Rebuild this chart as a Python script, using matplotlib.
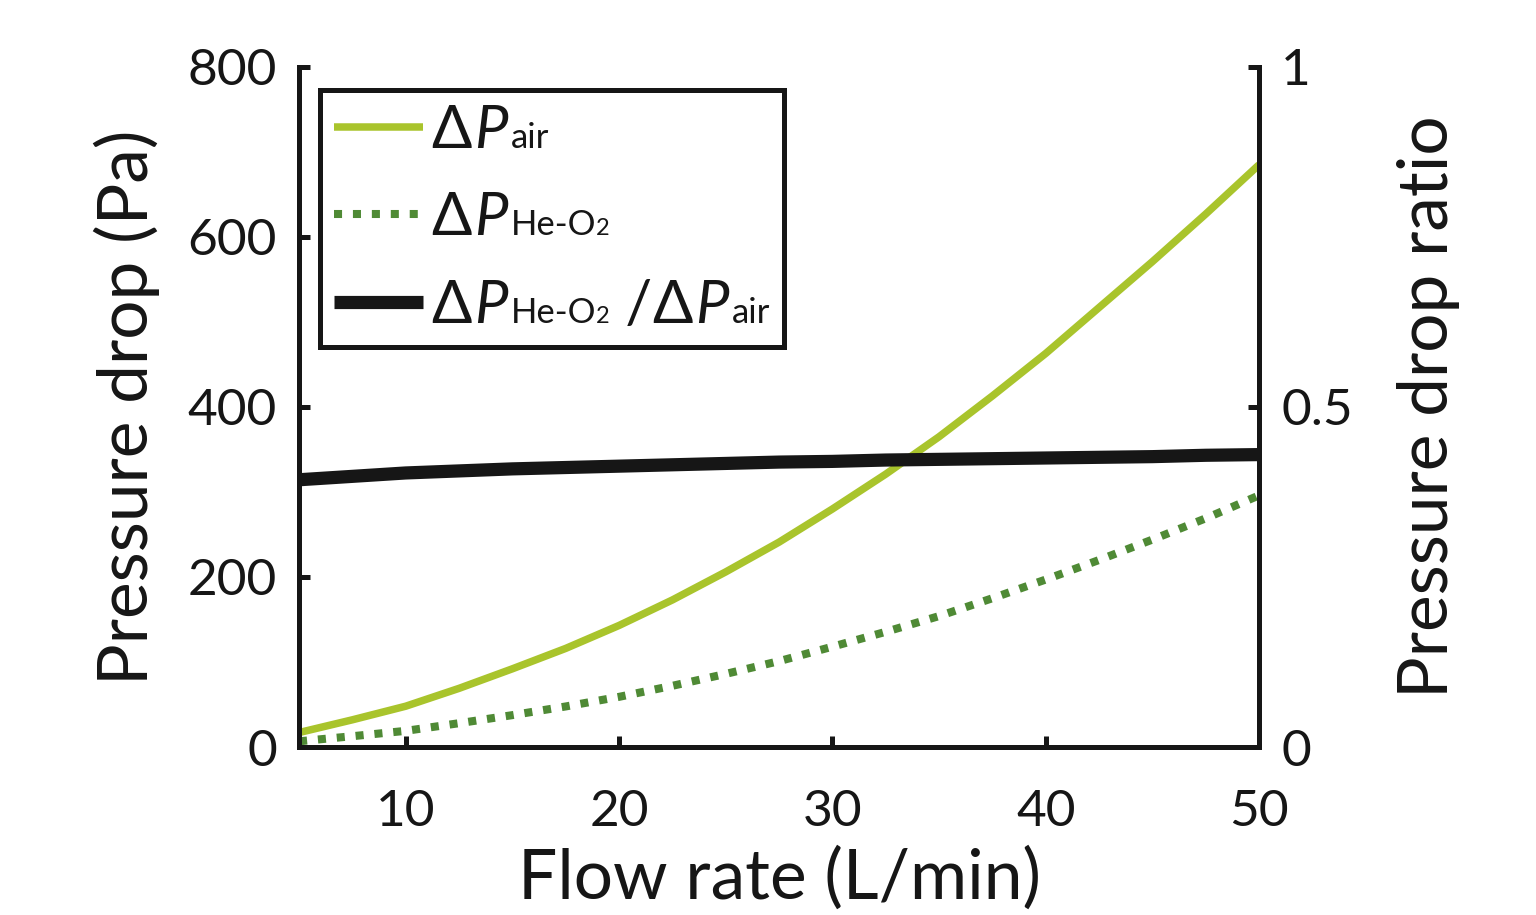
import matplotlib
matplotlib.use("Agg")
import matplotlib.pyplot as plt
from matplotlib.lines import Line2D
from matplotlib.offsetbox import (AnchoredOffsetbox, DrawingArea, HPacker,
                                  TextArea, VPacker)

plt.rcParams["font.family"] = ["Lato", "DejaVu Sans"]

flow = [5, 7.5, 10, 12.5, 15, 17.5, 20, 22.5, 25, 27.5, 30,
        32.5, 35, 37.5, 40, 42.5, 45, 47.5, 50]
dp_air = [17, 32, 48, 69, 92, 116, 143, 173, 206, 241, 280,
          321, 365, 413, 463, 517, 571, 627, 685]
dp_heo2 = [6.7, 12.7, 19, 28, 37.5, 47.7, 59, 72, 86, 101, 118,
           135.5, 154, 175, 197, 220, 244, 269, 296]
ratio = [0.393, 0.398, 0.403, 0.406, 0.409, 0.411, 0.413, 0.415, 0.417, 0.419, 0.420,
         0.422, 0.423, 0.424, 0.425, 0.426, 0.427, 0.429, 0.430]

xticks = [10, 20, 30, 40, 50]
yticks = [0, 200, 400, 600, 800]
rticks = [0, 0.5, 1]
rticklabels = ["0", "0.5", "1"]

c_air = "#a9c42c"
c_he = "#4f8a35"
c_k = "#161616"
dots = (0, (1, 1.35))

fig = plt.figure(figsize=(15.36, 9.15), dpi=100)
ax = fig.add_axes([0.1947, 0.1836, 0.625, 0.7432])
ax2 = ax.twinx()

l1, = ax.plot(flow, dp_air, color=c_air, lw=5.4, solid_capstyle="butt")
l2, = ax.plot(flow, dp_heo2, color=c_he, lw=5.8, linestyle=dots, dash_capstyle="butt")
l3, = ax2.plot(flow, ratio, color=c_k, lw=9.5, solid_capstyle="butt")

ax.set_xlim(5, 50)
ax.set_ylim(0, 800)
ax2.set_ylim(0, 1)
ax.set_xticks(xticks)
ax.set_yticks(yticks)
ax2.set_yticks(rticks)
ax2.set_yticklabels(rticklabels)

for a in (ax, ax2):
    a.spines["top"].set_visible(False)
    for s in a.spines.values():
        s.set_linewidth(3.6)
        s.set_color(c_k)
    a.tick_params(direction="in", width=3.6, length=8, labelsize=37,
                  color=c_k, labelcolor=c_k)
ax.tick_params(axis="x", pad=30)
ax.tick_params(axis="y", pad=16)
ax2.tick_params(axis="y", pad=16)

ax.set_xlabel("Flow rate (L/min)", fontsize=50, labelpad=8, color=c_k)
ax.set_ylabel("Pressure drop (Pa)", fontsize=50, labelpad=20, color=c_k)
ax2.set_ylabel("Pressure drop ratio", fontsize=50, labelpad=32, color=c_k)

# legend: subscripts sit on the baseline, as in the original
big, small, tiny = 43, 25, 17


def ta(s, size, **kw):
    return TextArea(s, textprops=dict(fontsize=size, color=c_k, **kw))


def dp(sub):
    if sub == "air":
        s = ta("air", small)
    else:
        s = HPacker(children=[ta("He-O", small), ta("2", tiny)],
                    align="baseline", pad=0, sep=0)
    return HPacker(children=[ta("Δ", big), ta("P", big, style="italic"), s],
                   align="baseline", pad=0, sep=2)


labels = [[dp("air")], [dp("he")], [dp("he"), ta(" /", big), dp("air")]]
styles = ["-", dots, "-"]
rows = []
for line, ls, lab in zip([l1, l2, l3], styles, labels):
    da = DrawingArea(64, 30, 0, 0)
    da.add_artist(Line2D([0, 64], [15, 15], color=line.get_color(),
                         lw=line.get_linewidth(), linestyle=ls,
                         solid_capstyle="butt", dash_capstyle="butt"))
    txt = HPacker(children=lab, align="baseline", pad=0, sep=0)
    rows.append(HPacker(children=[da, txt], align="baseline", pad=0, sep=6))
box = VPacker(children=rows, align="left", pad=0, sep=24)
anch = AnchoredOffsetbox(loc="upper left", child=box, pad=0.5, borderpad=0,
                         prop=dict(size=20),
                         bbox_to_anchor=(0.022, 0.966), bbox_transform=ax.transAxes,
                         frameon=True)
anch.patch.set_edgecolor(c_k)
anch.patch.set_linewidth(3.6)
anch.patch.set_boxstyle("square", pad=0)
anch.set_zorder(5)
ax2.add_artist(anch)

fig.savefig("out.png", dpi=100)
